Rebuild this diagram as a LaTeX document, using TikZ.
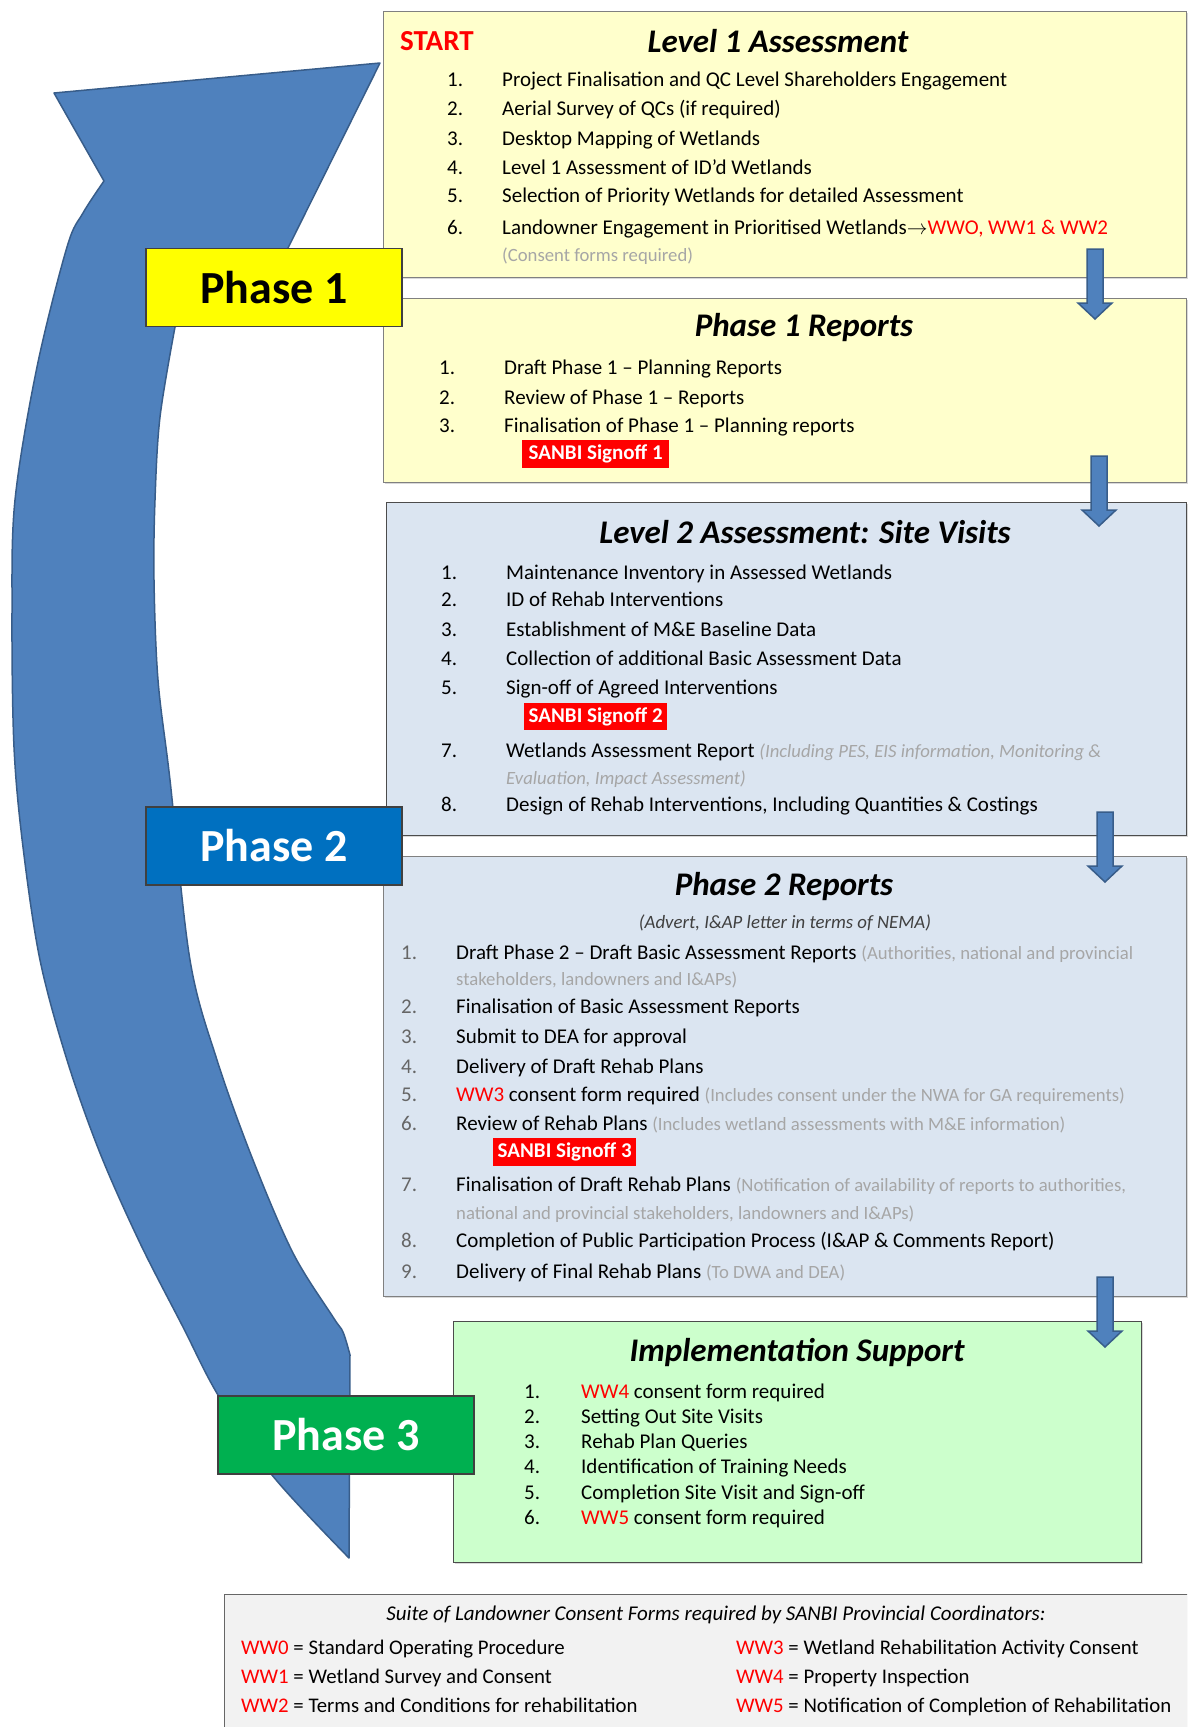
\documentclass[tikz,border=0pt]{standalone}
\usepackage{fontspec}
\setmainfont{Carlito}
\usetikzlibrary{positioning,shadows}

\definecolor{arrowblue}{HTML}{4F81BD}
\definecolor{arrowedge}{HTML}{385D8A}
\definecolor{paleyellow}{HTML}{FFFFCC}
\definecolor{paleblue}{HTML}{DBE5F1}
\definecolor{palegreen}{HTML}{CCFFCC}
\definecolor{legendgrey}{HTML}{F2F2F2}
\definecolor{phaseyellow}{HTML}{FFFF00}
\definecolor{phaseblue}{HTML}{0070C0}
\definecolor{phasegreen}{HTML}{00B050}
\definecolor{signred}{HTML}{FF0000}
\definecolor{notegrey}{HTML}{A6A6A6}

\newcommand{\ww}[1]{\textcolor{signred}{#1}}
\newcommand{\greynote}[1]{\textcolor{notegrey}{\fontsize{18.7}{22}\selectfont #1}}
\newcommand{\downflow}[1]{\filldraw[flowarrow] (#1) ++(-8,0) -- ++(16,0) -- ++(0,54) -- ++(9,0) -- ++(-17,16) -- ++(-17,-16) -- ++(9,0) -- cycle;}

\begin{document}
\begin{tikzpicture}[
    x=1pt, y=-1pt,
    panel/.style={draw=black!50, line width=1.2pt, anchor=north west, inner sep=0pt, drop shadow={shadow xshift=1.5pt, shadow yshift=-1.5pt, opacity=0.3}},
    phasebox/.style={draw=black!75, line width=1.2pt, minimum width=256pt, minimum height=78pt, inner sep=0pt, font=\fontsize{46}{52}\selectfont\bfseries},
    heading/.style={inner sep=0pt, font=\fontsize{33}{38}\selectfont\bfseries\itshape},
    num/.style={anchor=base west, inner sep=0pt, font=\fontsize{21}{25}\selectfont},
    entry/.style={anchor=base west, inner sep=0pt, font=\fontsize{21}{25}\selectfont},
    legendtxt/.style={anchor=base west, inner sep=0pt, font=\fontsize{20.8}{25}\selectfont},
    signoff/.style={fill=signred, text=white, inner sep=0pt, anchor=north west, font=\fontsize{21}{25}\selectfont\bfseries},
    bigarrow/.style={fill=arrowblue, draw=arrowedge, line width=1.5pt, line join=round},
    flowarrow/.style={fill=arrowblue, draw=arrowedge, line width=1.5pt, line join=miter}
]
\useasboundingbox (0,0) rectangle (1187,1727);

% the large return arrow
\filldraw[bigarrow] (380,63) -- (54,93) -- (104,181)
  -- plot[smooth, tension=0.55] coordinates {(104,181) (83,213) (67,247) (37,367) (15,500) (12,613) (14,747) (23,847) (40,960) (67,1060) (100,1153) (140,1243) (183,1327) (218,1395) (272,1475) (349,1558)}
  -- (350,1355)
  -- plot[smooth, tension=0.55] coordinates {(350,1355) (343,1332) (333,1317) (293,1253) (253,1160) (217,1060) (190,960) (170,780) (158,680) (154,580) (155,500) (160,417) (175,327)}
  -- (288,248) -- cycle;

% panels
\node[panel, fill=paleyellow, minimum width=803pt, minimum height=266pt] (lvlone) at (383,11) {};
\node[panel, fill=paleyellow, minimum width=803pt, minimum height=184pt] (phonerep) at (383,298) {};
\node[panel, draw=black!70, fill=paleblue, minimum width=800pt, minimum height=333pt] (lvltwo) at (386,502) {};
\node[panel, fill=paleblue, minimum width=803pt, minimum height=440pt] (phtworep) at (383,856) {};
\node[panel, draw=black!70, fill=palegreen, minimum width=688pt, minimum height=241pt] (impl) at (453,1321) {};
\begin{scope}
  \clip (0,0) rectangle (1187,1727);
  \node[panel, draw=black!60, fill=legendgrey, minimum width=980pt, minimum height=150pt] (legend) at (224,1594) {};
\end{scope}

% Level 1
\node[anchor=west, inner sep=0pt, text=signred, font=\fontsize{29}{33}\selectfont\bfseries] (start) at (400,41) {START};
\node[heading] (lvlonetitle) at (778,41) {Level 1 Assessment};
\foreach \n/\y/\t in {1/86/{Project Finalisation and QC Level Shareholders Engagement},
    2/115/{Aerial Survey of QCs (if required)},
    3/145/{Desktop Mapping of Wetlands},
    4/174/{Level 1 Assessment of ID’d Wetlands},
    5/202/{Selection of Priority Wetlands for detailed Assessment},
    6/234/{Landowner Engagement in Prioritised Wetlands$\rightarrow$\ww{WWO, WW1 \& WW2}}} {
  \node[num] (lonenum\n) at (447,\y) {\n.};
  \node[entry] (lone\n) at (502,\y) {\t};
}
\node[entry] (loneconsent) at (502,261) {\greynote{(Consent forms required)}};

% Phase 1 reports
\node[heading] (phoneteptitle) at (804,328) {Phase 1 Reports};
\foreach \n/\y/\t in {1/374/{Draft Phase 1 – Planning Reports},
    2/404/{Review of Phase 1 – Reports},
    3/432/{Finalisation of Phase 1 – Planning reports}} {
  \node[num] (ponenum\n) at (439,\y) {\n.};
  \node[entry] (pone\n) at (504,\y) {\t};
}
\node[signoff, minimum width=147pt, minimum height=28pt] (signone) at (522,440) {SANBI Signoff 1};

% Level 2
\node[heading] (lvltwotitle) at (805,532) {Level 2 Assessment: Site Visits};
\foreach \n/\y/\t in {1/579/{Maintenance Inventory in Assessed Wetlands},
    2/606/{ID of Rehab Interventions},
    3/636/{Establishment of M\&E Baseline Data},
    4/665/{Collection of additional Basic Assessment Data},
    5/694/{Sign-off of Agreed Interventions},
    7/757/{Wetlands Assessment Report {\itshape\greynote{(Including PES, EIS information, Monitoring \&}}},
    8/811/{Design of Rehab Interventions, Including Quantities \& Costings}} {
  \node[num] (ltwonum\n) at (441,\y) {\n.};
  \node[entry] (ltwo\n) at (506,\y) {\t};
}
\node[entry] (ltwomore) at (506,784) {\itshape\greynote{Evaluation, Impact Assessment)}};
\node[signoff, minimum width=143pt, minimum height=27pt] (signtwo) at (524,703) {SANBI Signoff 2};

% Phase 2 reports
\node[heading] (phtwotitle) at (784,887) {Phase 2 Reports};
\node[inner sep=0pt, text=black!75, font=\fontsize{18.8}{22}\selectfont\itshape] (nema) at (785,923) {(Advert, I\&AP letter in terms of NEMA)};
\foreach \n/\y/\t in {1/959/{Draft Phase 2 – Draft Basic Assessment Reports \greynote{(Authorities, national and provincial}},
    2/1013/{Finalisation of Basic Assessment Reports},
    3/1043/{Submit to DEA for approval},
    4/1073/{Delivery of Draft Rehab Plans},
    5/1101/{\ww{WW3} consent form required \greynote{(Includes consent under the NWA for GA requirements)}},
    6/1130/{Review of Rehab Plans \greynote{(Includes wetland assessments with M\&E information)}},
    7/1191/{Finalisation of Draft Rehab Plans \greynote{(Notification of availability of reports to authorities,}},
    8/1247/{Completion of Public Participation Process (I\&AP \& Comments Report)},
    9/1278/{Delivery of Final Rehab Plans \greynote{(To DWA and DEA)}}} {
  \node[num, text=black!60] (ptwonum\n) at (401,\y) {\n.};
  \node[entry] (ptwo\n) at (456,\y) {\t};
}
\node[entry] (ptwomoreone) at (456,985) {\greynote{stakeholders, landowners and I\&APs)}};
\node[entry] (ptwomoreseven) at (456,1219) {\greynote{national and provincial stakeholders, landowners and I\&APs)}};
\node[signoff, minimum width=143pt, minimum height=28pt] (signthree) at (493,1138) {SANBI Signoff 3};

% Implementation support
\node[heading] (impltitle) at (797,1352) {Implementation Support};
\foreach \n/\y/\t in {1/1398/{\ww{WW4} consent form required},
    2/1423/{Setting Out Site Visits},
    3/1448/{Rehab Plan Queries},
    4/1473/{Identification of Training Needs},
    5/1499/{Completion Site Visit and Sign-off},
    6/1524/{\ww{WW5} consent form required}} {
  \node[num] (implnum\n) at (524,\y) {\n.};
  \node[entry] (impl\n) at (581,\y) {\t};
}

% consent form legend
\node[inner sep=0pt, font=\fontsize{21}{25}\selectfont\itshape] (legendtitle) at (716,1615) {Suite of Landowner Consent Forms required by SANBI Provincial Coordinators:};
\foreach \n/\y/\l/\r in {a/1654/{\ww{WW0} = Standard Operating Procedure}/{\ww{WW3} = Wetland Rehabilitation Activity Consent},
    b/1683/{\ww{WW1} = Wetland Survey and Consent}/{\ww{WW4} = Property Inspection},
    c/1712/{\ww{WW2} = Terms and Conditions for rehabilitation}/{\ww{WW5} = Notification of Completion of Rehabilitation}} {
  \node[legendtxt] (legl\n) at (241,\y) {\l};
  \node[legendtxt] (legr\n) at (736,\y) {\r};
}

% phase tabs
\node[phasebox, fill=phaseyellow] (phone) at (274,287.5) {Phase 1};
\node[phasebox, fill=phaseblue, text=white] (phtwo) at (274,846) {Phase 2};
\node[phasebox, fill=phasegreen, text=white] (phthree) at (346,1435) {Phase 3};

% flow arrows between panels
\coordinate (flowone) at (1095,249);
\coordinate (flowtwo) at (1099,456);
\coordinate (flowthree) at (1105,812);
\coordinate (flowfour) at (1105,1277);
\downflow{flowone}
\downflow{flowtwo}
\downflow{flowthree}
\downflow{flowfour}
\end{tikzpicture}
\end{document}
